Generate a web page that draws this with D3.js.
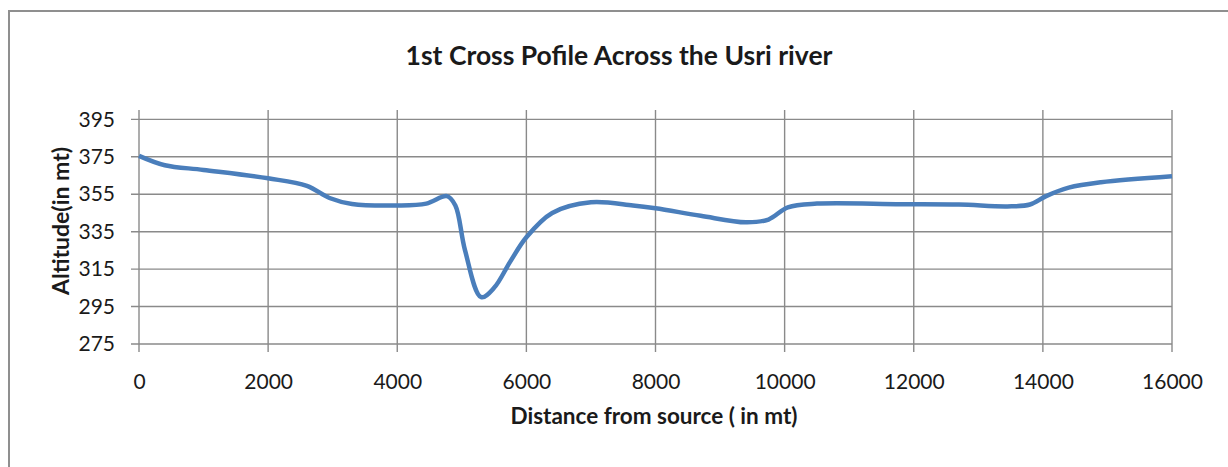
<!DOCTYPE html>
<html>
<head>
<meta charset="utf-8">
<script src="https://cdn.jsdelivr.net/npm/d3@7"></script>
<style>
  body { margin: 0; background: #fff; }
  text { font-family: Lato, "Open Sans", sans-serif; fill: #1a1a1a; }
</style>
</head>
<body>
<div id="chart"></div>
<script>
// distance from source (m) and altitude (m)
let distance = [0, 400, 1000, 2000, 2600, 2950, 3300, 4000, 4450, 4770, 4900, 5050, 5300, 5500, 5750, 6000, 6400, 7000, 7650, 8000, 8700, 9400, 9750, 10050, 10500, 11800, 12700, 13450, 13800, 14050, 14400, 14900, 16000];
let altitude = [375.5, 370.5, 368, 363.5, 359.5, 353, 349.8, 349, 350, 354, 349, 325, 300, 305, 319, 332, 345, 350.7, 349, 347.5, 343.5, 340, 341.5, 348, 350, 349.7, 349.5, 348.5, 349.5, 354, 358.5, 361.4, 364.6];
let xTicks = [0, 2000, 4000, 6000, 8000, 10000, 12000, 14000, 16000];
let yTicks = [275, 295, 315, 335, 355, 375, 395];

let data = distance.map(function(d, i) { return {d: d, v: altitude[i]}; });

let W = 1228, H = 467;
let margin = {top: 110, right: 56, bottom: 123, left: 139},
    width = W - margin.left - margin.right,
    height = H - margin.top - margin.bottom;

let svg = d3.select("#chart")
            .append("svg")
            .attr("width", W)
            .attr("height", H);

// outer chart border (cut by the picture at right and bottom)
svg.append("rect")
   .attr("x", 9).attr("y", 11)
   .attr("width", 1240).attr("height", 480)
   .attr("fill", "none")
   .attr("stroke", "#8f8f8f")
   .attr("stroke-width", 2);

let g = svg.append("g")
           .attr("transform", "translate(" + margin.left + "," + margin.top + ")");

let x = d3.scaleLinear().domain([0, 16000]).range([0, width]);
let y = d3.scaleLinear().domain([275, 400]).range([height, 0]);

// vertical gridlines
g.append("g")
 .selectAll("line")
 .data(xTicks)
 .enter()
 .append("line")
 .attr("x1", function(d) { return x(d); })
 .attr("x2", function(d) { return x(d); })
 .attr("y1", 0)
 .attr("y2", height + 8)
 .attr("stroke", "#8a8a8a")
 .attr("stroke-width", 1.4);

// horizontal gridlines
g.append("g")
 .selectAll("line")
 .data(yTicks)
 .enter()
 .append("line")
 .attr("x1", -8)
 .attr("x2", width)
 .attr("y1", function(d) { return y(d); })
 .attr("y2", function(d) { return y(d); })
 .attr("stroke", "#8a8a8a")
 .attr("stroke-width", 1.4);

let xAxis = g.append("g")
             .attr("transform", "translate(0," + height + ")")
             .call(d3.axisBottom(x).tickValues(xTicks).tickSize(0).tickPadding(30).tickFormat(d3.format("d")));
xAxis.select(".domain").remove();
xAxis.selectAll("text").style("font-size", "21px").attr("fill", "#1a1a1a");

let yAxis = g.append("g")
             .call(d3.axisLeft(y).tickValues(yTicks).tickSize(0).tickPadding(24));
yAxis.select(".domain").remove();
yAxis.selectAll("text").style("font-size", "21px").attr("fill", "#1a1a1a");

g.append("path")
 .datum(data)
 .attr("fill", "none")
 .attr("stroke", "#4a7ebb")
 .attr("stroke-width", 4.5)
 .attr("stroke-linejoin", "round")
 .attr("d", d3.line()
   .curve(d3.curveCatmullRom.alpha(0.5))
   .x(function(d) { return x(d.d); })
   .y(function(d) { return y(d.v); }));

svg.append("text")
   .attr("x", 619)
   .attr("y", 65)
   .attr("text-anchor", "middle")
   .style("font-size", "26.5px")
   .style("font-weight", "bold")
   .text("1st Cross Pofile Across the Usri river");

svg.append("text")
   .attr("x", 654)
   .attr("y", 424)
   .attr("text-anchor", "middle")
   .style("font-size", "22.5px")
   .style("font-weight", "bold")
   .text("Distance from source ( in mt)");

svg.append("text")
   .attr("transform", "translate(69,221) rotate(-90)")
   .attr("text-anchor", "middle")
   .style("font-size", "23px")
   .style("font-weight", "bold")
   .text("Altitude(in mt)");
</script>
</body>
</html>
